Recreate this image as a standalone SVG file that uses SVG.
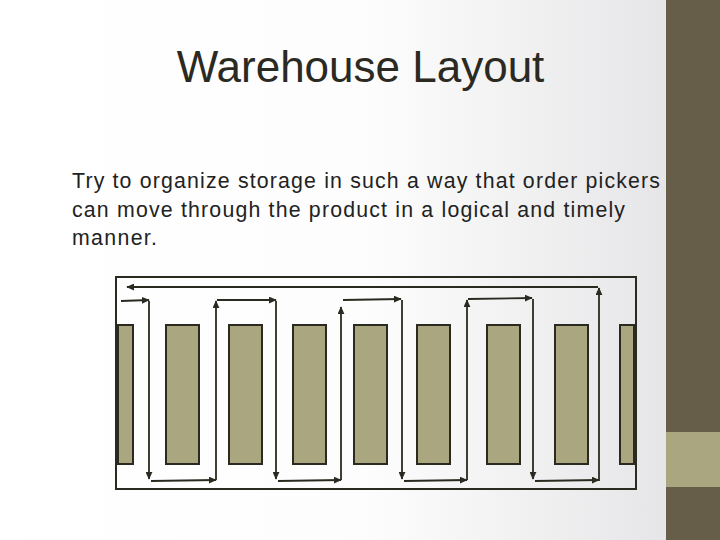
<svg xmlns="http://www.w3.org/2000/svg" width="720" height="540" viewBox="0 0 720 540">
<defs>
<linearGradient id="bg" x1="0" y1="0" x2="666" y2="0" gradientUnits="userSpaceOnUse">
<stop offset="0" stop-color="#ffffff"/>
<stop offset="0.55" stop-color="#fdfdfd"/>
<stop offset="1" stop-color="#e6e6e8"/>
</linearGradient>
<marker id="ah" viewBox="0 0 10 10" refX="9" refY="5" markerWidth="8" markerHeight="7" markerUnits="userSpaceOnUse" orient="auto" preserveAspectRatio="none">
<path d="M0,0 L10,5 L0,10 z" fill="#2b2a20"/>
</marker>
<style>
.rack{fill:#a9a680;stroke:#2b2a20;stroke-width:2}
.path{fill:none;stroke:#2b2a20;stroke-width:1.8;marker-end:url(#ah)}
.title{font-family:"Liberation Sans",Arial,sans-serif;font-size:44px;fill:#2b2a22}
.body{font-family:"Liberation Sans",Arial,sans-serif;font-size:21.3px;fill:#222}
</style>
</defs>
<rect width="720" height="540" fill="url(#bg)"/>
<g id="sidebar">
<rect x="666" y="0" width="54" height="540" fill="#665e48"/>
<rect x="666" y="432" width="54" height="55" fill="#a9a680"/>
</g>
<text id="title" class="title" x="360.5" y="82" text-anchor="middle">Warehouse Layout</text>
<g id="body-text" class="body">
<text x="72" y="188" textLength="588" lengthAdjust="spacing">Try to organize storage in such a way that order pickers</text>
<text x="72" y="216.5" textLength="553" lengthAdjust="spacing">can move through the product in a logical and timely</text>
<text x="72" y="245" textLength="85" lengthAdjust="spacing">manner.</text>
</g>
<g id="warehouse">
<rect id="outline" x="116" y="277" width="520" height="212" fill="none" stroke="#2b2a20" stroke-width="2"/>
<g id="racks">
<rect class="rack" x="118" y="325" width="15" height="139"/>
<rect class="rack" x="166" y="325" width="33" height="139"/>
<rect class="rack" x="229" y="325" width="33" height="139"/>
<rect class="rack" x="293" y="325" width="33" height="139"/>
<rect class="rack" x="354" y="325" width="33" height="139"/>
<rect class="rack" x="417" y="325" width="33" height="139"/>
<rect class="rack" x="487" y="325" width="33" height="139"/>
<rect class="rack" x="555" y="325" width="33" height="139"/>
<rect class="rack" x="620" y="325" width="14" height="139"/>
</g>
<g id="connectors">
<path class="path" d="M121,301 L149,300"/>
<path class="path" d="M149,301 L149,479"/>
<path class="path" d="M151,481 L216,480"/>
<path class="path" d="M216,480 L216,301"/>
<path class="path" d="M217,300 L276,300"/>
<path class="path" d="M276,301 L276,479"/>
<path class="path" d="M278,481 L341,480"/>
<path class="path" d="M341,480 L341,307"/>
<path class="path" d="M343,300 L401,299"/>
<path class="path" d="M402,300 L402,479"/>
<path class="path" d="M404,481 L467,480"/>
<path class="path" d="M467,480 L467,300"/>
<path class="path" d="M468,299 L532,298"/>
<path class="path" d="M533,299 L533,479"/>
<path class="path" d="M535,481 L599,480"/>
<path class="path" d="M599,481 L599,288"/>
<path class="path" d="M598,287 L127,287"/>
</g>
</g>
</svg>
